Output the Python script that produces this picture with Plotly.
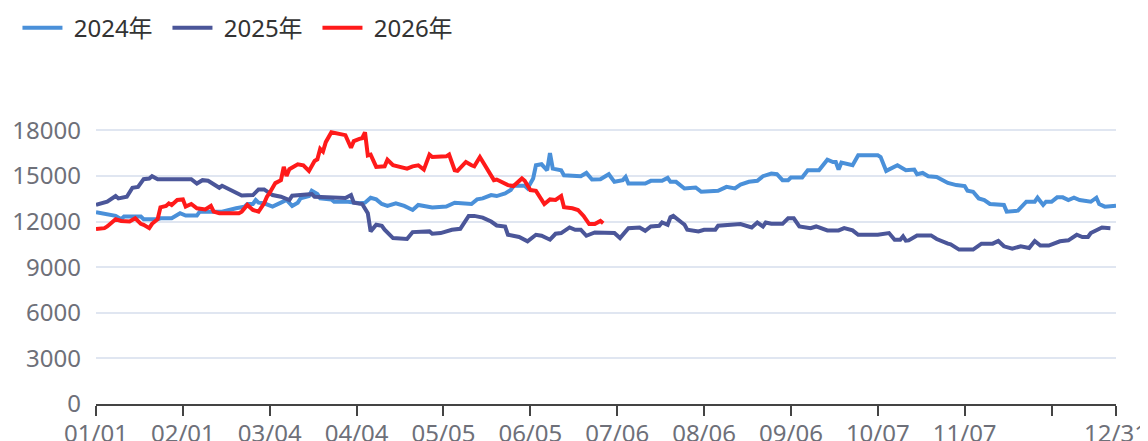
import plotly.graph_objects as go

# ---- data (day-of-year index, value) ----
tick_days = [0, 31, 62, 93, 124, 155, 186, 217, 248, 279, 310, 341, 364]
tick_labels = ["01/01", "02/01", "03/04", "04/04", "05/05", "06/05", "07/06",
               "08/06", "09/06", "10/07", "11/07", "", "12/31"]
y_ticks = [0, 3000, 6000, 9000, 12000, 15000, 18000]
y_tick_labels = ["0", "3000", "6000", "9000", "12000", "15000", "18000"]

days_2024 = [0, 3, 5, 7, 9, 10, 16, 17, 22, 23, 27, 30, 32, 36, 37, 45, 50, 53, 54, 56,
             57, 58, 60, 63, 66, 68, 70, 72, 73, 76, 77, 79, 80, 84, 85, 90, 94, 96, 98, 100,
             102, 104, 107, 110, 113, 115, 120, 123, 125, 128, 134, 136, 138, 141, 143, 146, 148, 149, 153, 154,
             156, 157, 159, 161, 162, 163, 166, 167, 173, 175, 177, 180, 183, 185, 188, 189, 190, 196, 198, 202,
             204, 205, 207, 210, 214, 216, 222, 225, 228, 230, 233, 236, 238, 241, 243, 245, 247, 248, 252, 254,
             258, 261, 263, 264, 265, 266, 270, 272, 279, 280, 282, 286, 289, 292, 293, 295, 297, 300, 304, 307,
             310, 311, 313, 315, 317, 319, 324, 325, 327, 329, 332, 335, 336, 338, 339, 341, 343, 345, 347, 349,
             351, 354, 355, 357, 358, 360, 364]
vals_2024 = [12610, 12500, 12390, 12370, 12150, 12325, 12325, 12150, 12150, 12215, 12215, 12545, 12390, 12390, 12650, 12650, 12870, 12980, 13155, 13155,
             13415, 13240, 13200, 12980, 13240, 13415, 13025, 13240, 13520, 13675, 14020, 13805, 13520, 13455, 13300, 13300, 13195, 13240, 13565, 13455,
             13155, 13025, 13195, 13025, 12760, 13090, 12930, 12930, 12980, 13240, 13155, 13455, 13520, 13740, 13675, 13850, 14070, 14350, 14350, 14180,
             14830, 15700, 15765, 15370, 16500, 15480, 15370, 15045, 14980, 15195, 14760, 14785, 15110, 14610, 14720, 14935, 14500, 14500, 14675, 14675,
             14870, 14610, 14610, 14175, 14240, 13955, 14020, 14280, 14180, 14435, 14610, 14675, 14980, 15150, 15110, 14720, 14720, 14890, 14890, 15370,
             15370, 16065, 15915, 15915, 15415, 15870, 15700, 16350, 16350, 16240, 15330, 15700, 15370, 15415, 15110, 15195, 14980, 14935, 14540, 14395,
             14330, 14020, 13955, 13520, 13415, 13155, 13090, 12650, 12650, 12715, 13300, 13300, 13565, 13090, 13300, 13300, 13590, 13590, 13415, 13565,
             13415, 13300, 13300, 13565, 13155, 12980, 13045]

days_2025 = [0, 3, 4, 7, 8, 11, 13, 15, 17, 19, 20, 22, 34, 36, 38, 40, 44, 45, 48, 52,
             56, 58, 60, 62, 63, 66, 69, 70, 77, 78, 84, 89, 91, 92, 95, 97, 98, 100, 102, 103,
             106, 111, 113, 119, 120, 123, 127, 130, 133, 135, 138, 141, 143, 146, 147, 151, 154, 157, 159, 162,
             164, 166, 169, 171, 173, 175, 178, 185, 187, 190, 194, 196, 198, 201, 202, 204, 205, 206, 209, 210,
             211, 215, 217, 221, 222, 226, 230, 234, 236, 238, 239, 241, 245, 247, 249, 251, 255, 257, 261, 265,
             267, 270, 272, 279, 283, 285, 287, 288, 289, 290, 293, 298, 300, 304, 305, 308, 313, 316, 320, 322,
             324, 327, 330, 333, 335, 337, 340, 344, 347, 350, 352, 354, 355, 359, 362]
vals_2025 = [13090, 13300, 13300, 13675, 13520, 13630, 14220, 14280, 14785, 14830, 14980, 14785, 14785, 14500, 14720, 14680, 14220, 14350, 14070, 13715,
             13740, 14110, 14110, 13850, 13740, 13630, 13415, 13700, 13805, 13630, 13590, 13550, 13740, 13240, 13155, 12545, 11350, 11785, 11720, 11460,
             10910, 10850, 11305, 11350, 11195, 11240, 11460, 11520, 12370, 12370, 12260, 12000, 11740, 11670, 11130, 10980, 10700, 11130, 11065, 10805,
             11195, 11240, 11610, 11460, 11460, 11065, 11280, 11240, 10910, 11565, 11610, 11390, 11675, 11720, 11935, 11785, 12285, 12370, 11935, 11800,
             11460, 11350, 11460, 11460, 11720, 11785, 11830, 11610, 11935, 11675, 11935, 11850, 11850, 12215, 12215, 11675, 11565, 11675, 11415, 11415,
             11565, 11415, 11130, 11130, 11240, 10805, 10805, 11020, 10740, 10760, 11085, 11085, 10850, 10545, 10500, 10155, 10155, 10545, 10545, 10720,
             10370, 10220, 10370, 10260, 10720, 10415, 10415, 10700, 10765, 11130, 10980, 10980, 11240, 11610, 11565]

days_2026 = [0, 3, 4, 7, 9, 12, 14, 16, 17, 19, 20, 22, 23, 25, 26, 27, 29, 31, 32, 34,
             36, 39, 41, 42, 44, 51, 52, 54, 56, 58, 60, 61, 62, 64, 66, 67, 68, 69, 72, 74,
             76, 78, 79, 80, 81, 82, 84, 86, 89, 91, 92, 94, 95, 96, 97, 98, 100, 103, 104, 106,
             108, 111, 113, 115, 117, 119, 120, 125, 126, 128, 129, 132, 134, 135, 137, 139, 142, 143, 147, 149,
             152, 153, 155, 157, 160, 162, 164, 166, 167, 170, 172, 174, 176, 178, 180, 181]
vals_2026 = [11500, 11565, 11675, 12150, 12040, 12000, 12215, 11850, 11785, 11565, 11850, 12150, 12935, 13025, 13195, 13090, 13415, 13455, 12980, 13155,
             12870, 12800, 13025, 12650, 12545, 12545, 12650, 13090, 12760, 12650, 13195, 13630, 13890, 14525, 14720, 15590, 15000, 15440, 15765, 15700,
             15330, 15980, 16090, 16780, 16600, 17220, 17870, 17800, 17680, 16850, 17285, 17435, 17480, 17870, 16350, 16400, 15590, 15630, 16065, 15700,
             15630, 15480, 15630, 15700, 15415, 16400, 16240, 16285, 16400, 15370, 15330, 15915, 15700, 15630, 16240, 15590, 14720, 14760, 14395, 14330,
             14830, 14680, 14070, 14020, 13155, 13455, 13415, 13675, 12935, 12870, 12760, 12370, 11830, 11830, 12040, 11890]

series = [
    ("2024年", days_2024, vals_2024, "#4A90D9"),
    ("2025年", days_2025, vals_2025, "#4B5699"),
    ("2026年", days_2026, vals_2026, "#FF1A1A"),
]

fig = go.Figure()
for name, xs, ys, color in series:
    fig.add_trace(go.Scatter(x=xs, y=ys, name=" " + name, mode="lines",
                             line=dict(color=color, width=4)))

FONT = "Noto Sans, Noto Sans CJK SC, sans-serif"
fig.update_layout(
    width=1140, height=433,
    margin=dict(l=88, r=32, t=120, b=37, autoexpand=False),
    paper_bgcolor="white", plot_bgcolor="white",
    font=dict(family=FONT, size=24, color="#6E7079"),
    showlegend=True,
    legend=dict(orientation="h", x=-0.077, xanchor="left", y=1.362, yanchor="middle",
                font=dict(family=FONT, size=24, color="#333333"),
                itemwidth=40, entrywidth=95, entrywidthmode="pixels",
                bgcolor="rgba(0,0,0,0)", tracegroupgap=0),
    xaxis=dict(range=[0, 364], tickmode="array", tickvals=tick_days, ticktext=tick_labels,
               showgrid=False, zeroline=False, showline=True, linecolor="#444444", linewidth=2,
               ticks="outside", ticklen=10, tickwidth=2, tickcolor="#444444", automargin=False,
               ticklabelstandoff=-3,
               tickfont=dict(size=24, color="#6E7079")),
    yaxis=dict(range=[0, 18150], tickmode="array", tickvals=y_ticks, ticktext=y_tick_labels,
               showgrid=True, gridcolor="#E0E6F1", gridwidth=2, zeroline=False, showline=False,
               ticks="", ticklabelstandoff=14, automargin=False,
               tickfont=dict(size=24, color="#6E7079")),
)

fig.write_html("out.html")
